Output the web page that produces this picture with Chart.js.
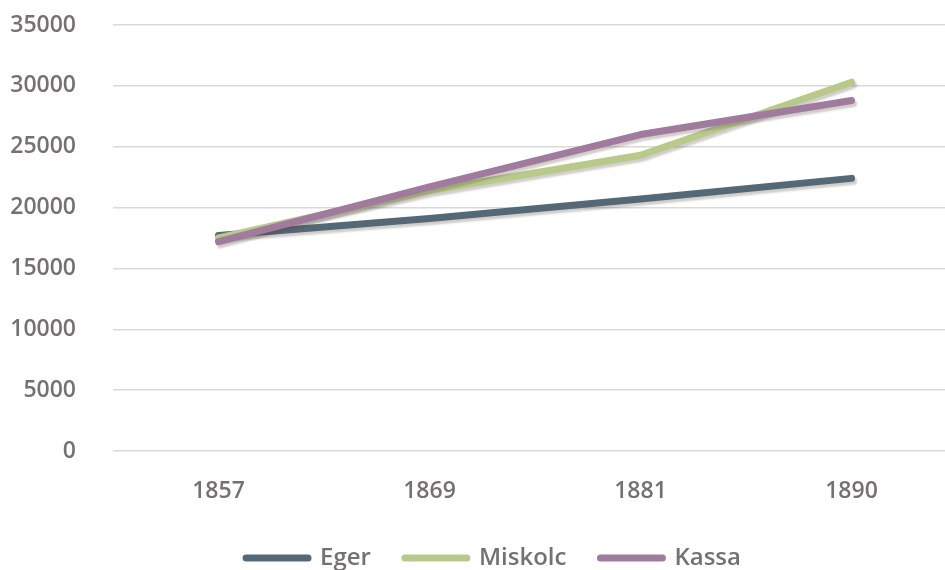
<!DOCTYPE html>
<html>
<head>
<meta charset="utf-8">
<script src="https://cdn.jsdelivr.net/npm/chart.js@4/dist/chart.umd.min.js"></script>
<style>
    html, body { margin: 0; padding: 0; background: #fff; overflow: hidden; }
    #wrap { width: 957px; height: 570px; }
</style>
</head>
<body>
<div id="wrap"><canvas id="chart"></canvas></div>
<script>
// Population figures
const years = ['1857', '1869', '1881', '1890'];
const eger = [17700, 19100, 20700, 22400];
const miskolc = [17500, 21400, 24300, 30300];
const kassa = [17200, 21700, 26000, 28800];

const seriesNames = ['Eger', 'Miskolc', 'Kassa'];
const seriesColors = ['#546876', '#b8c98a', '#a07b9e'];

const textColor = '#767171';
const fontFamily = '"Open Sans", "Noto Sans", sans-serif';

// Soft gray drop shadow under each line, like the original
const shadowPlugin = {
    id: 'lineShadow',
    beforeDatasetDraw(chart) {
        const ctx = chart.ctx;
        ctx.save();
        ctx.shadowColor = 'rgba(90, 75, 65, 0.28)';
        ctx.shadowBlur = 2;
        ctx.shadowOffsetX = 2;
        ctx.shadowOffsetY = 3;
    },
    afterDatasetDraw(chart) {
        chart.ctx.restore();
    }
};

// The original legend sits a little right of the canvas centre
const legendShift = {
    id: 'legendShift',
    afterLayout(chart) {
        if (chart.legend) chart.legend.left += 30;
    }
};

function makeDataset(i, values) {
    return {
        label: seriesNames[i],
        data: values,
        borderColor: seriesColors[i],
        backgroundColor: seriesColors[i],
        borderWidth: 7,
        borderCapStyle: 'round',
        borderJoinStyle: 'round',
        pointRadius: 0,
        pointHoverRadius: 0,
        pointStyle: 'line',
        tension: 0,
        fill: false,
        order: 3 - i
    };
}

// Default legend items, but with rounded line ends
function legendLabels(chart) {
    const base = Chart.defaults.plugins.legend.labels.generateLabels(chart);
    return base.map(item => ({ ...item, lineCap: 'round', lineWidth: 7 }));
}

const ctx = document.getElementById('chart').getContext('2d');
new Chart(ctx, {
    type: 'line',
    data: {
        labels: years,
        datasets: [
            makeDataset(0, eger),
            makeDataset(1, miskolc),
            makeDataset(2, kassa)
        ]
    },
    options: {
        responsive: true,
        maintainAspectRatio: false,
        animation: false,
        layout: {
            padding: { left: 0, right: 0, top: 25, bottom: -10 }
        },
        scales: {
            x: {
                offset: true,
                grid: { display: false, drawTicks: false },
                border: { display: false },
                ticks: {
                    color: textColor,
                    padding: 27,
                    font: { family: fontFamily, size: 23, weight: '600' }
                },
                afterFit(scale) {
                    scale.height = 61;
                    scale.paddingLeft = 0;
                    scale.paddingRight = 0;
                }
            },
            y: {
                min: 0,
                max: 35000,
                grid: { color: '#d9d9d9', lineWidth: 1.5, drawTicks: false },
                border: { display: false },
                ticks: {
                    stepSize: 5000,
                    color: textColor,
                    padding: 37,
                    font: { family: fontFamily, size: 23, weight: '600' },
                    callback: (value) => String(value)
                },
                afterFit(scale) {
                    scale.width = 113;
                    scale.paddingTop = 0;
                    scale.paddingBottom = 0;
                }
            }
        },
        plugins: {
            legend: {
                position: 'bottom',
                labels: {
                    usePointStyle: true,
                    pointStyle: 'line',
                    pointStyleWidth: 62,
                    padding: 34,
                    color: textColor,
                    font: { family: fontFamily, size: 24, weight: '600' },
                    generateLabels: legendLabels,
                    sort: (a, b) => a.datasetIndex - b.datasetIndex
                }
            },
            tooltip: { enabled: false }
        }
    },
    plugins: [shadowPlugin, legendShift]
});
</script>
</body>
</html>
